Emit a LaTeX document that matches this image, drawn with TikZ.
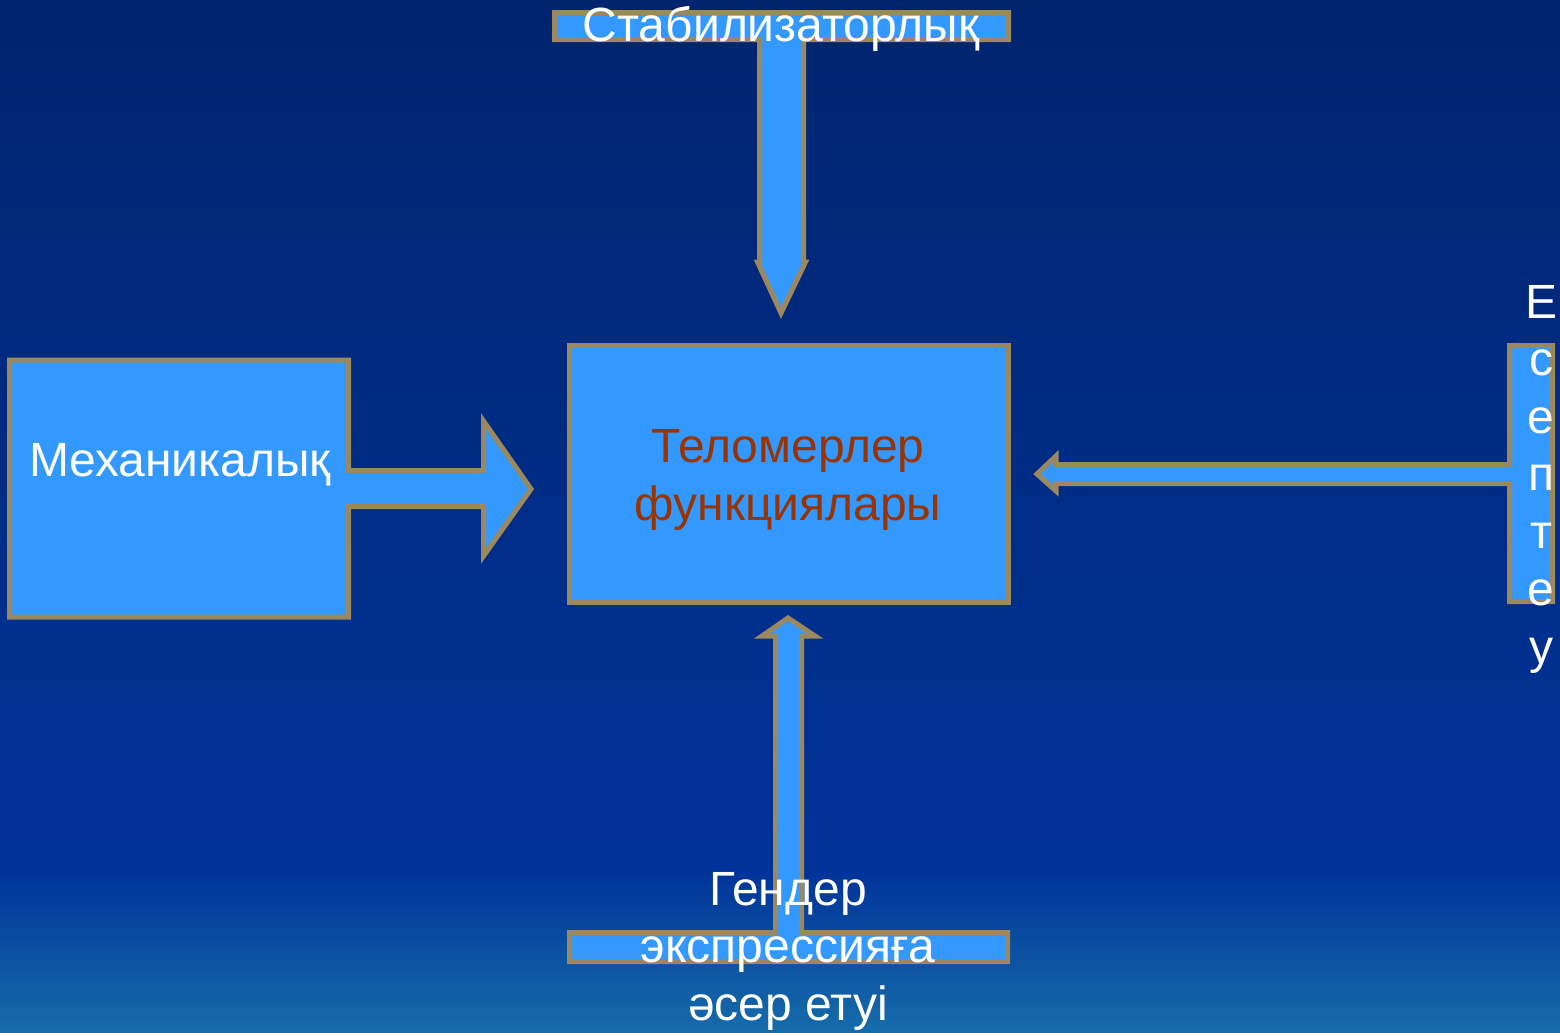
\documentclass[tikz,border=0pt]{standalone}
\usepackage{fontspec}
\setmainfont{Liberation Sans}
\definecolor{bgtop}{RGB}{0,36,110}
\definecolor{bgmid}{RGB}{0,51,153}
\definecolor{bgbot}{RGB}{22,108,170}
\definecolor{boxfill}{RGB}{51,153,255}
\definecolor{boxedge}{RGB}{156,136,94}
\definecolor{brownt}{RGB}{153,51,0}
\tikzset{
  callout/.style={fill=boxfill, draw=boxedge, line width=5bp, line join=miter},
  lbl/.style={inner sep=0pt, anchor=base, align=center, text=white, font=\fontsize{48bp}{57.5bp}\selectfont},
}
\begin{document}
\begin{tikzpicture}[x=1bp,y=-1bp]
\useasboundingbox (0,0) rectangle (1560,1032);
\shade[top color=bgtop, bottom color=bgmid] (0,0) rectangle (1560,870);
\shade[top color=bgmid, bottom color=bgbot] (0,869) rectangle (1560,1032);

% center box
\draw[callout] (569.5,345.5) rectangle (1008.5,602.5);

% top callout
\draw[callout] (554.5,12.5) -- (1008.5,12.5) -- (1008.5,39.5) -- (803.5,39.5) -- (803.5,262) -- (805.5,262)
  -- (781,313) -- (757.5,262) -- (759.5,262) -- (759.5,39.5) -- (554.5,39.5) -- cycle;

% left callout
\draw[callout] (9.5,360) -- (348.5,360) -- (348.5,470.5) -- (483.5,470.5) -- (483.5,421) -- (531,489)
  -- (483.5,556) -- (483.5,506.5) -- (348.5,506.5) -- (348.5,617) -- (9.5,617) -- cycle;

% right callout
\draw[callout] (1509.5,345.5) -- (1552.5,345.5) -- (1552.5,601.5) -- (1509.5,601.5) -- (1509.5,483.5)
  -- (1056,483.5) -- (1056,491) -- (1037,474) -- (1056,456) -- (1056,464.5) -- (1509.5,464.5) -- cycle;

% bottom callout
\draw[callout] (569.5,932.5) -- (775.5,932.5) -- (775.5,636) -- (762,636) -- (788,618) -- (815,636)
  -- (801.5,636) -- (801.5,932.5) -- (1007.5,932.5) -- (1007.5,961.5) -- (569.5,961.5) -- cycle;

% labels (base anchor = baseline of the last line)
\node[lbl] (stab) at (781,41) {Стабилизаторлық};
\node[lbl] (mech) at (180,476) {Механикалық};
\node[lbl, text=brownt] (telo) at (788,520) {Теломерлер\\функциялары};
\node[lbl] (esep) at (1541,663) {Е\\с\\е\\п\\т\\е\\у};
\node[lbl] (gen) at (788,1020) {Гендер\\экспрессияға\\әсер етуі};
\end{tikzpicture}
\end{document}
